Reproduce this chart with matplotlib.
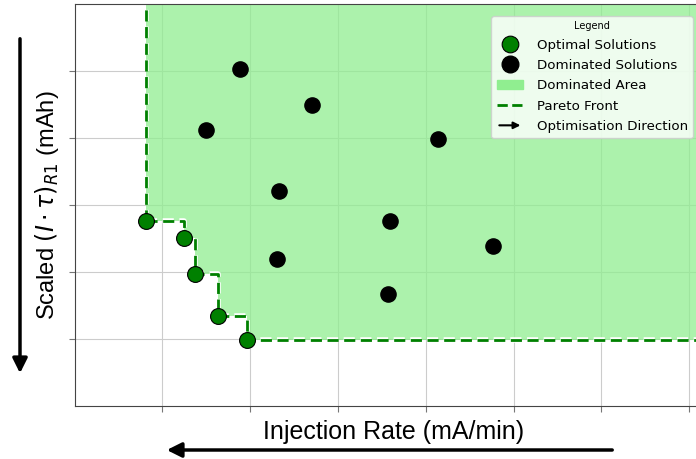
import matplotlib
matplotlib.use("Agg")
import matplotlib.pyplot as plt
import matplotlib.patheffects as pe
from matplotlib.patches import FancyArrowPatch, Patch
from matplotlib.lines import Line2D
from matplotlib.legend_handler import HandlerPatch

# optimal (pareto) solutions
opt_x = [0.81, 1.25, 1.37, 1.63, 1.97]
opt_y = [2.77, 2.51, 1.97, 1.35, 0.99]

# dominated solutions
dom_x = [1.89, 1.50, 2.71, 2.33, 3.59, 2.31, 3.57, 4.14, 4.77]
dom_y = [5.03, 4.13, 4.50, 3.22, 2.77, 2.20, 1.67, 3.99, 2.40]

x_max = 7.26
y_max = 6.0


class HandlerArrow(HandlerPatch):
    def create_artists(self, legend, orig_handle, xdescent, ydescent,
                       width, height, fontsize, trans):
        y = 0.5 * height - ydescent
        p = FancyArrowPatch((-xdescent, y), (width - xdescent, y),
                            arrowstyle='-|>', mutation_scale=10,
                            lw=1.5, color='black')
        p.set_transform(trans)
        return [p]


fig = plt.figure(figsize=(6.96, 4.59), dpi=100)
ax = fig.add_axes([74.5 / 696, 52.7 / 459, (712 - 74.5) / 696, 402 / 459])

ax.set_xlim(0, x_max)
ax.set_ylim(0, y_max)
ax.set_xticks(range(1, 8))
ax.set_yticks(range(1, 6))
ax.set_xticklabels([])
ax.set_yticklabels([])
ax.tick_params(length=4, color='#777777', width=0.8)
for s in ['left', 'bottom', 'top']:
    ax.spines[s].set_color('#444444')
ax.spines['right'].set_visible(False)
ax.grid(True, color='#cccccc', lw=0.8, zorder=0)
ax.set_axisbelow(True)

# dominated area
fx = opt_x + [x_max]
fy = opt_y + [opt_y[-1]]
ax.fill_between(fx, fy, y_max, step='post', color='lightgreen',
                alpha=0.75, lw=0, zorder=1)

# pareto front
stroke = [pe.Stroke(linewidth=4, foreground='white'), pe.Normal()]
ax.step(fx, fy, where='post', color='green', ls=(0, (4, 2)), lw=2,
        zorder=2, path_effects=stroke)
ax.plot([opt_x[0], opt_x[0]], [opt_y[0], y_max], color='green',
        ls=(0, (4, 2)), lw=2, zorder=2, path_effects=stroke)

ax.scatter(dom_x, dom_y, s=120, color='black', zorder=3)
ax.scatter(opt_x, opt_y, s=130, color='green', edgecolor='black',
           lw=0.8, zorder=4)

ax.set_xlabel('Injection Rate (mA/min)', fontsize=18,
              family='Liberation Sans')
ax.xaxis.set_label_coords(0.5, -0.035, transform=ax.transAxes)
ax.xaxis.label.set_va('top')
ax.set_ylabel(r'Scaled $(I \cdot \tau)_{R1}$ (mAh)', fontsize=17,
              family='Liberation Sans')
ax.yaxis.set_label_coords(-0.021, 0.5)

# optimisation direction arrows
fig.add_artist(FancyArrowPatch((20 / 696, 1 - 36 / 459), (20 / 696, 1 - 376 / 459),
                               transform=fig.transFigure, arrowstyle='-|>',
                               mutation_scale=22, lw=2.5, color='black'))
fig.add_artist(FancyArrowPatch((615 / 696, 1 - 450 / 459), (164 / 696, 1 - 450 / 459),
                               transform=fig.transFigure, arrowstyle='-|>',
                               mutation_scale=22, lw=2.5, color='black'))

handles = [
    Line2D([], [], ls='', marker='o', markersize=12, markerfacecolor='green',
           markeredgecolor='black', markeredgewidth=0.8),
    Line2D([], [], ls='', marker='o', markersize=12, color='black'),
    Patch(color='lightgreen'),
    Line2D([], [], color='green', ls='--', lw=2),
    FancyArrowPatch((0, 0), (1, 0)),
]
labels = ['Optimal Solutions', 'Dominated Solutions', 'Dominated Area',
          'Pareto Front', 'Optimisation Direction']
leg = ax.legend(handles, labels, loc='upper right', fontsize=9.6,
                title='Legend', title_fontsize=7,
                bbox_to_anchor=(693 / 696, 1 - 16 / 459),
                bbox_transform=fig.transFigure,
                handler_map={FancyArrowPatch: HandlerArrow()},
                handlelength=2, handletextpad=1.0, labelspacing=0.55,
                borderaxespad=0)

fig.savefig('out.png', dpi=100)
